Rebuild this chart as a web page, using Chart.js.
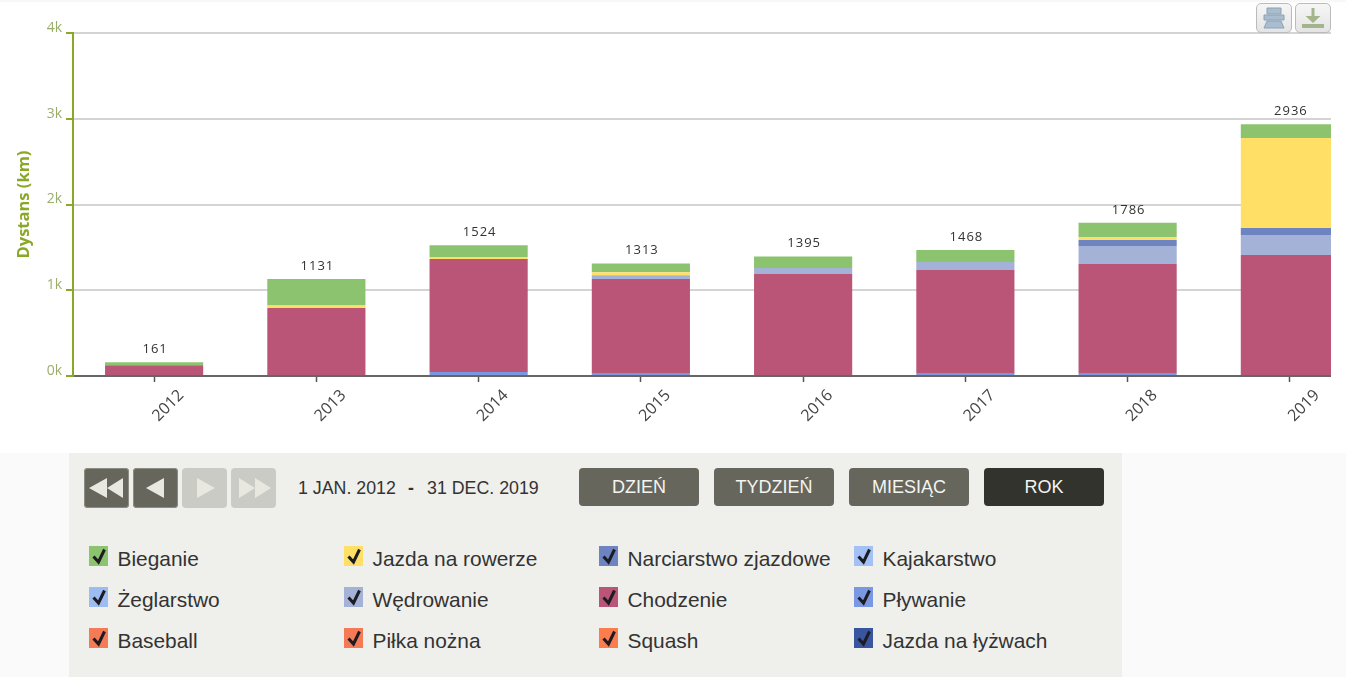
<!DOCTYPE html>
<html lang="pl">
<head>
<meta charset="utf-8">
<title>Dystans</title>
<script src="https://cdn.jsdelivr.net/npm/chart.js@4/dist/chart.umd.min.js"></script>
<style>
    html, body { margin: 0; padding: 0; }
    body { width: 1346px; height: 677px; position: relative; overflow: hidden; background: #fafafa; font-family: "Liberation Sans", Arial, sans-serif; color: #333; }
    #chartBox { position: absolute; left: 0; top: 0; width: 1346px; height: 453px; background: #fff; }
    #topStrip { position: absolute; left: 0; top: 0; width: 1346px; height: 2px; background: #f8f8f8; }
    #clip { position: absolute; left: 0; top: 0; width: 1331px; height: 453px; overflow: hidden; }
    canvas { display: block; }
    .tool { position: absolute; top: 3px; width: 34px; height: 28px; border: 1px solid #bbb; border-radius: 5px; background: linear-gradient(#f6f6f6, #e4e4e4); }
    .tool svg { display: block; margin: 3px auto 0; }
    #panel { position: absolute; left: 69px; top: 453px; width: 1053px; height: 224px; background: #efefeb; }
    .nav { position: absolute; top: 468px; width: 45px; height: 40px; border-radius: 4px; background: #66665c; box-shadow: 0 0 0 1px #8c8c84 inset; }
    .nav.off { background: #cbcbc5; box-shadow: none; }
    .nav svg { display: block; }
    .range { position: absolute; top: 478px; font-size: 17.800px; line-height: 20px; color: #333; white-space: nowrap; }
    .btn { position: absolute; top: 468px; width: 120px; height: 38px; line-height: 39px; border-radius: 4px; background: #66665c; color: #f4f4f0; text-align: center; font-size: 18px; }
    .btn.on { background: #33332d; }
    .swatch { position: absolute; width: 19px; height: 20px; }
    .swatch svg { display: block; }
    .name { position: absolute; font-size: 20.900px; line-height: 24px; color: #333; white-space: nowrap; }
</style>
</head>
<body>
<div id="chartBox"></div>
<div id="clip"><canvas id="distChart" width="1371" height="453"></canvas></div>
<div id="topStrip"></div>

<div class="tool" style="left:1256px">
    <svg width="26" height="22" viewBox="0 0 26 22"><path d="M6 1h14v6H6zM3 8h20v5H3zM6 14h14l3 7H3z" fill="#a9bdd0" stroke="#8ea2b6" stroke-width="1"/></svg>
</div>
<div class="tool" style="left:1295px">
    <svg width="26" height="22" viewBox="0 0 26 22"><path d="M11.500 1h3v8h6l-7.500 7-7.500-7h6zM2 17h22v4H2z" fill="#a4b48c"/></svg>
</div>

<div id="panel"></div>

<div class="nav" style="left:84px"><svg width="45" height="40" viewBox="0 0 45 40"><path d="M5 20l18-10v20zM23 20l16-10v20z" fill="#e8e8e0"/></svg></div>
<div class="nav" style="left:133px"><svg width="45" height="40" viewBox="0 0 45 40"><path d="M13 20l18-10v20z" fill="#e8e8e0"/></svg></div>
<div class="nav off" style="left:182px"><svg width="45" height="40" viewBox="0 0 45 40"><path d="M15 10l18 10-18 10z" fill="#e8e8e0"/></svg></div>
<div class="nav off" style="left:231px"><svg width="45" height="40" viewBox="0 0 45 40"><path d="M8 10l16 10-16 10zM24 10l16 10-16 10z" fill="#e8e8e0"/></svg></div>

<div class="range" style="left:298px">1 JAN. 2012</div>
<div class="range" style="left:408px;font-weight:bold">-</div>
<div class="range" style="left:427px">31 DEC. 2019</div>

<div class="btn" style="left:579px">DZIEŃ</div>
<div class="btn" style="left:714px">TYDZIEŃ</div>
<div class="btn" style="left:849px">MIESIĄC</div>
<div class="btn on" style="left:984px">ROK</div>

<div id="legendBox"></div>

<script>
// --- 1. Data ---
const years = ['2012', '2013', '2014', '2015', '2016', '2017', '2018', '2019'];
const totals = [161, 1131, 1524, 1313, 1395, 1468, 1786, 2936];
const yTicks = [0, 1000, 2000, 3000, 4000];

const bieganie   = [32, 308, 135, 102, 136, 139, 165, 161];
const rower      = [4, 30, 25, 35, 0, 0, 35, 1049];
const narciarstwo = [0, 0, 0, 0, 0, 0, 70, 82];
const kajak      = [0, 0, 0, 0, 0, 0, 0, 0];
const zeglarstwo = [0, 0, 0, 0, 0, 0, 0, 0];
const wedrowanie = [0, 0, 0, 45, 70, 93, 210, 233];
const chodzenie  = [125, 793, 1317, 1096, 1189, 1201, 1271, 1411];
const plywanie   = [0, 0, 35, 35, 0, 35, 35, 0];
const baseball   = [0, 0, 0, 0, 0, 0, 0, 0];
const pilka      = [0, 0, 12, 0, 0, 0, 0, 0];
const squash     = [0, 0, 0, 0, 0, 0, 0, 0];
const lyzwy      = [0, 0, 0, 0, 0, 0, 0, 0];

// legend order = top of the stack first
const series = [
    { name: 'Bieganie', color: '#8cc36f', data: bieganie },
    { name: 'Jazda na rowerze', color: '#ffdf66', data: rower },
    { name: 'Narciarstwo zjazdowe', color: '#6d84c0', data: narciarstwo },
    { name: 'Kajakarstwo', color: '#a3c1f5', data: kajak },
    { name: 'Żeglarstwo', color: '#9dbdf2', data: zeglarstwo },
    { name: 'Wędrowanie', color: '#a5b2d8', data: wedrowanie },
    { name: 'Chodzenie', color: '#ba5577', data: chodzenie },
    { name: 'Pływanie', color: '#7a98e2', data: plywanie },
    { name: 'Baseball', color: '#f47b55', data: baseball },
    { name: 'Piłka nożna', color: '#f47b55', data: pilka },
    { name: 'Squash', color: '#fb7c4c', data: squash },
    { name: 'Jazda na łyżwach', color: '#3a55a0', data: lyzwy }
];

// --- 2. Legend under the chart ---
const legendBox = document.getElementById('legendBox');
const colX = [89, 344, 599, 854];
const rowY = [546, 587, 628];
series.forEach((s, i) => {
    const x = colX[i % 4];
    const y = rowY[Math.floor(i / 4)];
    const sw = document.createElement('div');
    sw.className = 'swatch';
    sw.style.left = x + 'px';
    sw.style.top = y + 'px';
    sw.style.background = s.color;
    sw.innerHTML = '<svg width="19" height="20" viewBox="0 0 19 20"><path d="M4.500 10.500l5 5.500 6-12.500" fill="none" stroke="#1c1c22" stroke-width="3"/></svg>';
    legendBox.appendChild(sw);
    const label = document.createElement('div');
    label.className = 'name';
    label.style.left = (x + 28.5) + 'px';
    label.style.top = (y + 1) + 'px';
    label.textContent = s.name;
    legendBox.appendChild(label);
});

// --- 3. Totals above the stacks ---
const totalLabels = {
    id: 'totalLabels',
    afterDatasetsDraw(chart) {
        const { ctx, scales } = chart;
        ctx.save();
        ctx.font = "13px 'Open Sans'";
        ctx.letterSpacing = '1px';
        ctx.fillStyle = '#333';
        ctx.textAlign = 'center';
        ctx.textBaseline = 'middle';
        totals.forEach((t, i) => {
            ctx.fillText(String(t), scales.x.getPixelForTick(i) + 1, scales.y.getPixelForValue(t) - 13);
        });
        ctx.restore();
    }
};

// --- 4. Chart ---
const distChart = new Chart(document.getElementById('distChart').getContext('2d'), {
    type: 'bar',
    data: {
        labels: years,
        // chart.js stacks from the first dataset up
        datasets: series.slice().reverse().map(s => ({
            label: s.name,
            data: s.data,
            backgroundColor: s.color,
            borderWidth: 0,
            categoryPercentage: 1,
            barPercentage: 0.605
        }))
    },
    options: {
        responsive: false,
        animation: false,
        layout: { padding: { top: 33, left: 0, right: 0, bottom: 0 } },
        plugins: { legend: { display: false }, tooltip: { enabled: false } },
        scales: {
            x: {
                stacked: true,
                afterFit: scale => { scale.height = 77; },
                grid: { offset: false, drawOnChartArea: false, tickColor: '#555', tickLength: 6, tickWidth: 1.5 },
                border: { color: '#666', width: 2 },
                ticks: {
                    autoSkip: false,
                    minRotation: 45,
                    maxRotation: 45,
                    labelOffset: 27,
                    padding: 4,
                    color: '#444',
                    font: { family: "'Open Sans'", size: 16 }
                }
            },
            y: {
                stacked: true,
                min: 0,
                max: 4000,
                afterFit: scale => { scale.width = 73; },
                afterBuildTicks: scale => { scale.ticks = yTicks.map(v => ({ value: v })); },
                grid: { color: '#d4d4d4', lineWidth: 2, tickColor: '#8aa827', tickLength: 7 },
                border: { color: '#8aa827', width: 2 },
                title: {
                    display: true,
                    text: 'Dystans (km)',
                    color: '#8aa827',
                    font: { family: "'Open Sans'", size: 16.500, weight: 'bold' },
                    padding: { top: 14, bottom: 0 }
                },
                ticks: {
                    labelOffset: -5,
                    padding: 4,
                    color: '#9aae6c',
                    font: { family: "'Open Sans'", size: 14 },
                    callback: v => (v / 1000) + 'k'
                }
            }
        }
    },
    plugins: [totalLabels]
});
</script>
</body>
</html>
